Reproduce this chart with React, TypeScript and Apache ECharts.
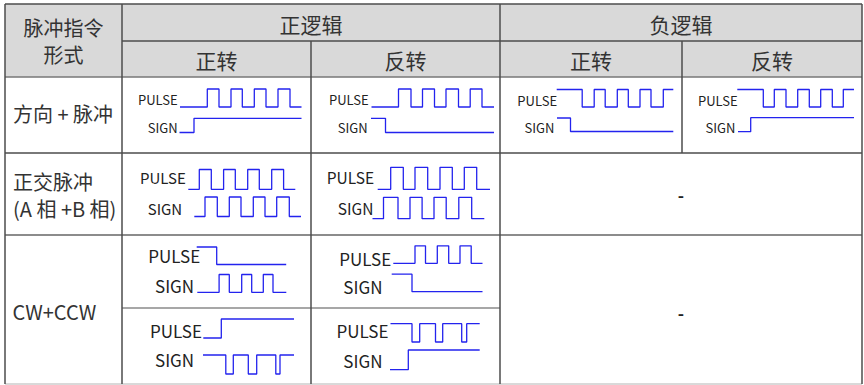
import React, { useEffect, useRef } from "react";
import * as echarts from "echarts";

// ---------- texts ----------
const cornerLines = ["脉冲指令", "形式"];
const logicHeaders = ["正逻辑", "负逻辑"];
const directionHeaders = ["正转", "反转", "正转", "反转"];
const rowTitle1 = ["方向 + 脉冲"];
const rowTitle2 = ["正交脉冲", "(A 相 +B 相)"];
const rowTitle3 = ["CW+CCW"];
const emptyMark = "-";
const signalNames = ["PULSE", "SIGN"];

// ---------- waveforms: [time, level] (level 1 = high, 0 = low) ----------
// 方向 + 脉冲
const dpPosFwdPulse = [[0, 0], [27.3, 1], [39, 0], [51, 1], [62.3, 0], [74.3, 1], [86, 0], [98, 1], [110, 0], [121.5, 0]];
const dpPosFwdSign = [[0, 0], [14.5, 1], [122, 1]];
const dpPosRevPulse = [[0, 0], [27, 1], [39.5, 0], [51, 1], [63, 0], [74.5, 1], [87, 0], [98.7, 1], [110.5, 0], [122.5, 0]];
const dpPosRevSign = [[0, 1], [14.5, 0], [123, 0]];
const dpNegFwdPulse = [[0, 1], [25.5, 0], [37.5, 1], [48.5, 0], [60.6, 1], [71.6, 0], [83.3, 1], [94.3, 0], [106.6, 1], [116.6, 1]];
const dpNegFwdSign = [[0, 1], [13.5, 0], [116.3, 0]];
const dpNegRevPulse = [[0, 1], [26, 0], [37, 1], [48.7, 0], [60.4, 1], [72, 0], [83.4, 1], [95, 0], [106, 1], [116.7, 1]];
const dpNegRevSign = [[0, 0], [12.7, 1], [116, 1]];
// 正交脉冲
const abFwdPulse = [[0, 0], [11, 1], [23, 0], [35.3, 1], [47, 0], [59.4, 1], [71, 0], [83.4, 1], [95.3, 0], [107, 0]];
const abFwdSign = [[0, 0], [10.7, 1], [23, 0], [35, 1], [46.7, 0], [59, 1], [70.7, 0], [82.4, 1], [95, 0], [106.7, 0]];
const abRevPulse = [[0, 0], [13, 1], [25.6, 0], [37.3, 1], [50, 0], [62.3, 1], [74.6, 0], [86.6, 1], [99, 0], [112.3, 0]];
const abRevSign = [[0, 0], [11, 1], [25.5, 0], [37.5, 1], [49.6, 0], [61.5, 1], [73.7, 0], [86.3, 1], [99.2, 0], [111.8, 0]];
// CW + CCW
const cwFwd1Pulse = [[0, 1], [20, 0], [89.5, 0]];
const cwFwd1Sign = [[0, 0], [21.8, 1], [32, 0], [44.4, 1], [54.4, 0], [66, 1], [75.7, 0], [89, 0]];
const cwRev1Pulse = [[0, 0], [21.7, 1], [32.2, 0], [44, 1], [55.4, 0], [66.7, 1], [77.9, 0], [89.2, 0]];
const cwRev1Sign = [[0, 1], [20.3, 0], [90.8, 0]];
const cwFwd2Pulse = [[0, 0], [18, 1], [90.7, 1]];
const cwFwd2Sign = [[0, 1], [22.8, 0], [30.3, 1], [45.3, 0], [53.7, 1], [72.8, 0], [77, 1], [91, 1]];
const cwRev2Pulse = [[0, 1], [21.5, 0], [29.2, 1], [45, 0], [52.2, 1], [71.2, 0], [76.2, 1], [89.2, 1]];
const cwRev2Sign = [[0, 0], [18.3, 1], [89.7, 1]];

// ---------- layout (pixels) ----------
const FONT = '"Noto Sans CJK SC", "Noto Sans", sans-serif';
const TEXT = "#333333";
const LINE = "#4d4d4d";
const WAVE = "#2323ee";

// each waveform: data, left x, y of high level, y of low level
const waveLayout = [
  { d: dpPosFwdPulse, x: 180, hi: 89, lo: 107 },
  { d: dpPosFwdSign, x: 179.5, hi: 118.3, lo: 132.5 },
  { d: dpPosRevPulse, x: 371.5, hi: 89, lo: 107 },
  { d: dpPosRevSign, x: 371, hi: 118.3, lo: 132.5 },
  { d: dpNegFwdPulse, x: 556.7, hi: 89.5, lo: 107 },
  { d: dpNegFwdSign, x: 557, hi: 118, lo: 131.5 },
  { d: dpNegRevPulse, x: 737.3, hi: 89.5, lo: 107 },
  { d: dpNegRevSign, x: 738, hi: 117.7, lo: 131.7 },
  { d: abFwdPulse, x: 188.3, hi: 169.5, lo: 189.3 },
  { d: abFwdSign, x: 194.3, hi: 197, lo: 216.5 },
  { d: abRevPulse, x: 377.7, hi: 167.3, lo: 189.3 },
  { d: abRevSign, x: 372.5, hi: 197.3, lo: 218.7 },
  { d: cwFwd1Pulse, x: 196.7, hi: 247, lo: 264.5 },
  { d: cwFwd1Sign, x: 197.3, hi: 274.5, lo: 292.3 },
  { d: cwRev1Pulse, x: 393.3, hi: 245.8, lo: 263.3 },
  { d: cwRev1Sign, x: 391.7, hi: 274.2, lo: 291.7 },
  { d: cwFwd2Pulse, x: 203.3, hi: 319, lo: 338 },
  { d: cwFwd2Sign, x: 203, hi: 355, lo: 374 },
  { d: cwRev2Pulse, x: 390.5, hi: 323.7, lo: 342 },
  { d: cwRev2Sign, x: 390, hi: 350, lo: 369.7 },
];

// signal name labels: [nameIndex, left x, centre y, font size]
const labelLayout = [
  [0, 138, 99.5, 13], [1, 147.7, 127.7, 13],
  [0, 329, 99.5, 13], [1, 337.7, 127.7, 13],
  [0, 517.3, 100, 13], [1, 524.5, 127.7, 13],
  [0, 698, 100, 13], [1, 705.5, 127.7, 13],
  [0, 140, 177.3, 15], [1, 147.7, 208.3, 15],
  [0, 326.7, 176.7, 15.5], [1, 337.7, 208.3, 15.5],
  [0, 148.3, 255, 17], [1, 155, 285.5, 17],
  [0, 339.3, 258.3, 17], [1, 343.3, 286.7, 17],
  [0, 150, 330.5, 17], [1, 155, 359, 17],
  [0, 336.5, 330.5, 17], [1, 343.3, 360, 17],
];

const hLines = [
  [4, 5, 862, LINE], [41, 122, 862, LINE], [77, 5, 862, "#777777"], [153, 5, 862, LINE],
  [235, 5, 862, "#666666"], [308, 122, 500, "#8a8a8a"], [384, 5, 862, "#cccccc"],
];
const vLines = [
  [5, 4, 384], [122, 4, 384], [311, 41, 384], [500, 4, 384], [682, 41, 153], [862, 4, 384],
];

function txt(text: string, x: number, y: number, size: number, align = "center", color = TEXT, weight = "normal") {
  return {
    type: "text",
    x,
    y,
    silent: true,
    style: { text, fontSize: size, fontFamily: FONT, fontWeight: weight, fill: color, align, verticalAlign: "middle" },
  };
}

export default function App() {
  const ref = useRef<HTMLDivElement>(null);
  useEffect(() => {
    if (!ref.current) return;
    const chart = echarts.init(ref.current, undefined, { renderer: "svg" });

    const grid: any[] = [];
    const xAxis: any[] = [];
    const yAxis: any[] = [];
    const series: any[] = [];
    waveLayout.forEach((w, i) => {
      const tEnd = w.d[w.d.length - 1][0];
      grid.push({ left: w.x, top: w.hi, width: tEnd, height: w.lo - w.hi, containLabel: false });
      xAxis.push({ type: "value", gridIndex: i, min: 0, max: tEnd, show: false });
      yAxis.push({ type: "value", gridIndex: i, min: 0, max: 1, show: false });
      series.push({
        type: "line",
        xAxisIndex: i,
        yAxisIndex: i,
        data: w.d,
        step: "end",
        symbol: "none",
        clip: false,
        silent: true,
        lineStyle: { color: WAVE, width: 1.3 },
        z: 5,
      });
    });

    const graphic: any[] = [];
    graphic.push({ type: "rect", shape: { x: 5, y: 4, width: 857, height: 73 }, style: { fill: "#d9d9d9" }, silent: true, z: -10 });
    hLines.forEach(([y, x1, x2, c]) =>
      graphic.push({ type: "line", shape: { x1: x1 as number, y1: y as number, x2: x2 as number, y2: y as number }, style: { stroke: c, lineWidth: 1.5 }, silent: true, z: 1 })
    );
    vLines.forEach(([x, y1, y2]) =>
      graphic.push({ type: "line", shape: { x1: x, y1, x2: x, y2 }, style: { stroke: LINE, lineWidth: 1.5 }, silent: true, z: 1 })
    );

    // headers
    graphic.push(txt(cornerLines[0], 63.5, 27.6, 20));
    graphic.push(txt(cornerLines[1], 63.5, 54.4, 20));
    graphic.push(txt(logicHeaders[0], 311, 23.5, 21));
    graphic.push(txt(logicHeaders[1], 681, 23.5, 21));
    const subCentres = [216.5, 405.5, 591, 772];
    directionHeaders.forEach((t, i) => graphic.push(txt(t, subCentres[i], 59.5, 21)));

    // row titles
    graphic.push(txt(rowTitle1[0], 63, 113.5, 20));
    graphic.push(txt(rowTitle2[0], 13, 181.7, 20, "left"));
    graphic.push(txt(rowTitle2[1], 13, 208.3, 20, "left"));
    graphic.push(txt(rowTitle3[0], 12.5, 311.7, 20, "left"));

    // empty cells
    graphic.push(txt(emptyMark, 681, 194.5, 17, "center", "#222222", "bold"));
    graphic.push(txt(emptyMark, 681, 312, 17, "center", "#222222", "bold"));

    // signal labels
    labelLayout.forEach(([n, x, y, s]) => graphic.push(txt(signalNames[n], x, y, s, "left", "#222222")));

    chart.setOption({
      animation: false,
      backgroundColor: "#ffffff",
      grid,
      xAxis,
      yAxis,
      series,
      graphic,
    });
    return () => chart.dispose();
  }, []);

  return <div ref={ref} style={{ position: "fixed", left: 0, top: 0, width: 864, height: 385 }} />;
}
